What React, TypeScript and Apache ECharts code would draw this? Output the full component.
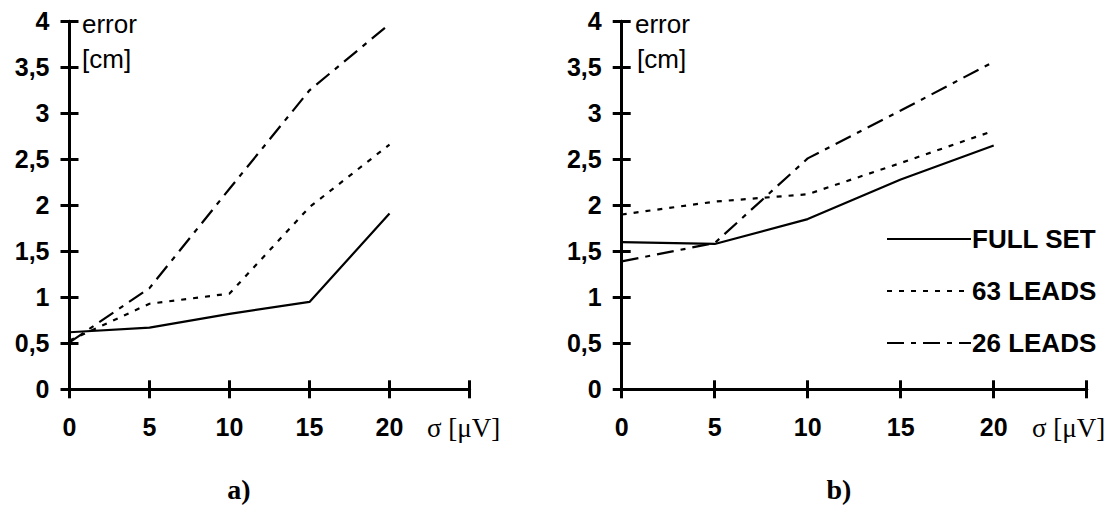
import React, { useEffect, useRef } from "react";
import * as echarts from "echarts";

const sigma = [0, 5, 10, 15, 20];
const xTickLabels = ["0", "5", "10", "15", "20", ""];
const yTickLabels = ["0", "0,5", "1", "1,5", "2", "2,5", "3", "3,5", "4"];
const seriesNames = ["FULL SET", "63 LEADS", "26 LEADS"];

// a) panel
const leftFull = [0.62, 0.67, 0.82, 0.95, 1.91];
const left63 = [0.53, 0.93, 1.04, 1.98, 2.66];
const left26 = [0.51, 1.1, 2.18, 3.25, 3.97];

// b) panel
const rightFull = [1.6, 1.58, 1.85, 2.28, 2.65];
const right63 = [1.9, 2.04, 2.12, 2.46, 2.81];
const right26 = [1.39, 1.59, 2.51, 3.03, 3.56];

const SANS = "Liberation Sans, Arial, sans-serif";
const SERIF = "Liberation Serif, Times New Roman, serif";

const lineTypes: any[] = ["solid", [5, 7], [17, 7, 5, 7]];

function pairs(ys: number[]) {
  return sigma.map((x, i) => [x, ys[i]]);
}

const tickStyle = { color: "#000", width: 3 };

function xAxes(gridIndex: number) {
  const base = {
    type: "value",
    gridIndex,
    position: "bottom",
    offset: 0,
    min: 0,
    max: 25,
    interval: 5,
    splitLine: { show: false },
  };
  return [
    {
      ...base,
      axisLine: { show: true, onZero: false, lineStyle: { color: "#000", width: 3 } },
      axisTick: { show: true, inside: false, length: 9, lineStyle: tickStyle },
      axisLabel: {
        show: true,
        margin: 25,
        color: "#000",
        fontFamily: SANS,
        fontWeight: "bold",
        fontSize: 25,
        formatter: (v: number) => xTickLabels[Math.round(v / 5)] ?? "",
      },
    },
    {
      ...base,
      axisLine: { show: true, onZero: false, lineStyle: { color: "#000", width: 3 } },
      axisTick: { show: true, inside: true, length: 9, lineStyle: tickStyle },
      axisLabel: { show: false },
    },
  ];
}

function yAxes(gridIndex: number) {
  const base = {
    type: "value",
    gridIndex,
    position: "left",
    offset: 0,
    min: 0,
    max: 4,
    interval: 0.5,
    splitLine: { show: false },
  };
  return [
    {
      ...base,
      axisLine: { show: true, onZero: false, lineStyle: { color: "#000", width: 3 } },
      axisTick: { show: true, inside: false, length: 9, lineStyle: tickStyle },
      axisLabel: {
        show: true,
        margin: 20,
        color: "#000",
        fontFamily: SANS,
        fontWeight: "bold",
        fontSize: 25,
        formatter: (v: number) => yTickLabels[Math.round(v / 0.5)] ?? "",
      },
    },
    {
      ...base,
      axisLine: { show: true, onZero: false, lineStyle: { color: "#000", width: 3 } },
      axisTick: { show: true, inside: true, length: 9, lineStyle: tickStyle },
      axisLabel: { show: false },
    },
  ];
}

function makeSeries(axisIndex: number, sets: number[][]) {
  return sets.map((ys, i) => ({
    type: "line",
    name: seriesNames[i],
    xAxisIndex: axisIndex,
    yAxisIndex: axisIndex,
    data: pairs(ys),
    symbol: "none",
    showSymbol: false,
    lineStyle: { color: "#000", width: 2.2, type: lineTypes[i] },
    itemStyle: { color: "#000" },
    z: 3,
  }));
}

function textEl(text: string, x: number, y: number, font: any, align = "left") {
  return {
    type: "text",
    x,
    y,
    silent: true,
    style: {
      text,
      fill: "#000",
      textAlign: align,
      textVerticalAlign: "middle",
      ...font,
    },
  };
}

export default function App() {
  const ref = useRef<HTMLDivElement>(null);

  useEffect(() => {
    if (!ref.current) return;
    const chart = echarts.init(ref.current, undefined, { renderer: "svg" });
    const nameFont = { fontFamily: SANS, fontSize: 26, fontWeight: "normal" };
    const sigmaFont = { fontFamily: SERIF, fontSize: 27, fontWeight: "normal" };
    const panelFont = { fontFamily: SERIF, fontSize: 28, fontWeight: "bold" };

    chart.setOption({
      animation: false,
      backgroundColor: "#fff",
      grid: [
        { left: 69.5, top: 21.3, width: 400, height: 368, containLabel: false },
        { left: 621.7, top: 21.3, width: 465, height: 368, containLabel: false },
      ],
      xAxis: [...xAxes(0), ...xAxes(1)],
      yAxis: [...yAxes(0), ...yAxes(1)],
      legend: {
        orient: "vertical",
        left: 881,
        top: 221,
        itemWidth: 84,
        itemHeight: 14,
        itemGap: 26,
        selectedMode: false,
        data: seriesNames,
        itemStyle: { opacity: 0 },
        textStyle: {
          color: "#000",
          fontFamily: SANS,
          fontWeight: "bold",
          fontSize: 26,
          lineHeight: 26,
          padding: [0, 0, 0, -4],
        },
      },
      series: [...makeSeries(0, [leftFull, left63, left26]), ...makeSeries(2, [rightFull, right63, right26])],
      graphic: [
        textEl("error", 82, 24, nameFont),
        textEl("[cm]", 82, 59, nameFont),
        textEl("error", 635, 24, nameFont),
        textEl("[cm]", 637, 59, nameFont),
        textEl("σ [μV]", 427, 428, sigmaFont),
        textEl("σ [μV]", 1032, 428, sigmaFont),
        textEl("a)", 239, 489, panelFont, "center"),
        textEl("b)", 839, 489, panelFont, "center"),
      ],
    });
    return () => chart.dispose();
  }, []);

  return (
    <div
      ref={ref}
      style={{ position: "fixed", left: 0, top: 0, width: 1117, height: 516, background: "#fff" }}
    />
  );
}
